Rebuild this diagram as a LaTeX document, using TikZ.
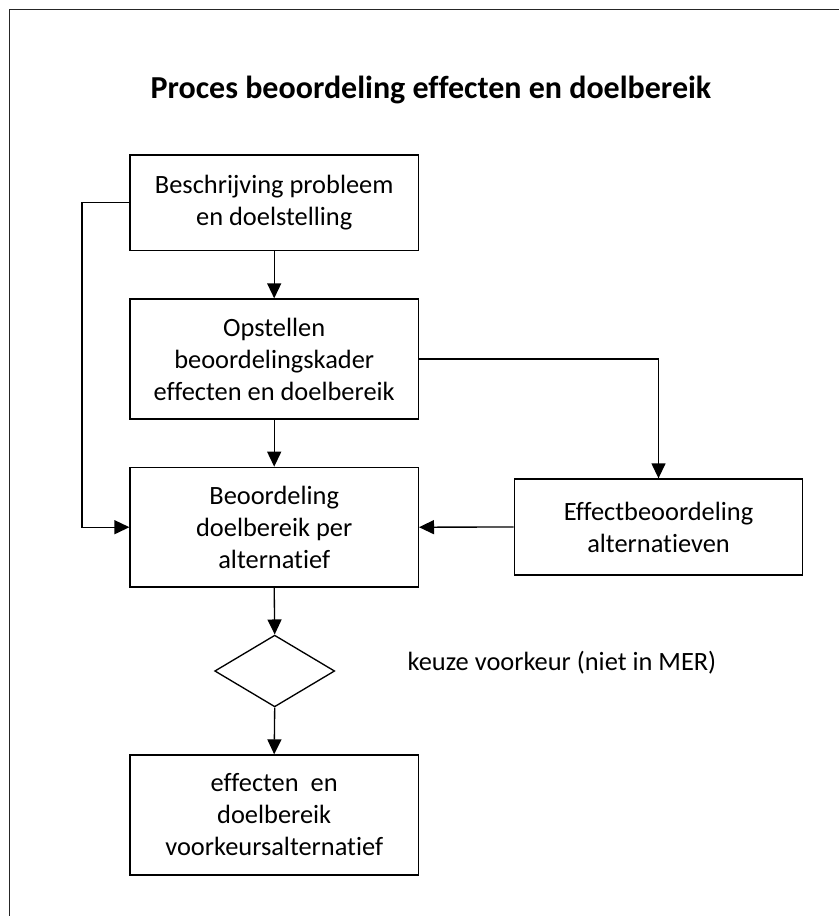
\documentclass[tikz,border=0pt]{standalone}
\usepackage{fontspec}
\setmainfont{Carlito}[Ligatures=NoCommon]
\usetikzlibrary{arrows.meta,shapes.geometric}
\begin{document}
\begin{tikzpicture}[x=0.75pt,y=-0.75pt,
  line width=1pt,
  box/.style={draw, rectangle, inner sep=0pt, align=center,
    font=\fontsize{19.8}{24}\selectfont, minimum width=216.2pt},
  arr/.style={-{Triangle[length=11.25pt,width=10.5pt]}},
  lbl/.style={font=\fontsize{19.8}{24}\selectfont, inner sep=0pt}]
\useasboundingbox (0,0) rectangle (839,916);
\draw[line width=1.1pt, black!85] (839,9.5) -- (9.5,9.5) -- (9.5,916);
\node[font=\bfseries\fontsize{24}{29}\selectfont, inner sep=0pt, anchor=base] (title) at (431,99) {Proces beoordeling effecten en doelbereik};
\node[box, minimum height=71.8pt] (b1) at (274.2,202.8) {Beschrijving probleem\\en doelstelling};
\node[box, minimum height=90pt] (b2) at (274.2,359) {Opstellen\\beoordelingskader\\effecten en doelbereik};
\node[box, minimum height=89.8pt] (b3) at (274.2,527.2) {Beoordeling\\doelbereik per\\alternatief};
\node[box, minimum height=72pt, minimum width=216.3pt] (eff) at (658.5,527) {Effectbeoordeling\\alternatieven};
\node[draw, diamond, inner sep=0pt, minimum width=90pt, minimum height=53.8pt] (dia) at (274.7,671) {};
\node[box, minimum height=90pt] (b4) at (274.2,815) {effecten\ \ en\\doelbereik\\voorkeursalternatief};
\node[lbl, anchor=base west] (keuze) at (407,670) {keuze voorkeur (niet in MER)};
\draw[arr] (b1.south) -- (b2.north);
\draw[arr] (b2.south) -- (b3.north);
\draw[arr] (b3.south) -- (dia.north);
\draw[arr] (dia.south) -- (b4.north);
\draw[arr] (b1.west) -- ++(-47.3,0) |- (b3.west);
\draw[arr] (b2.east) -| (eff.north);
\draw[arr] (eff.west) -- (b3.east);
\end{tikzpicture}
\end{document}
